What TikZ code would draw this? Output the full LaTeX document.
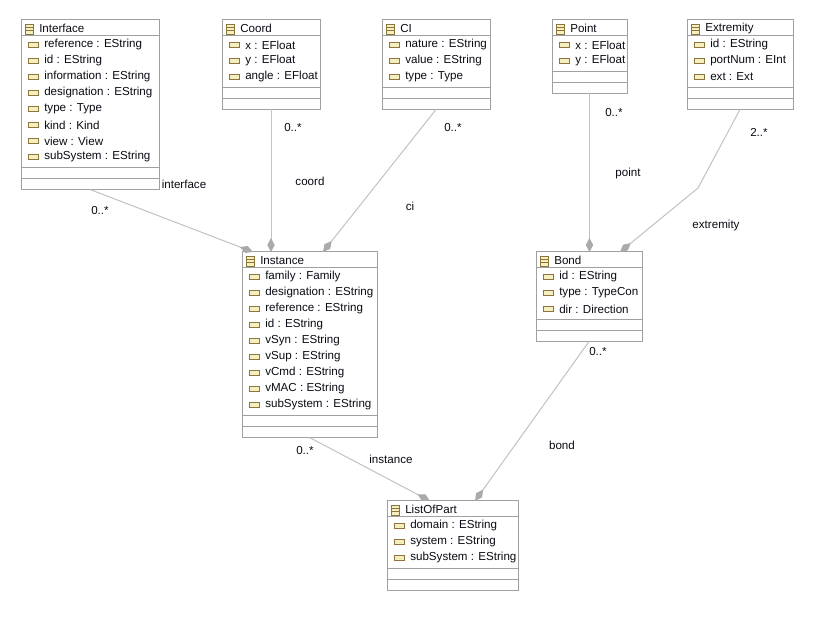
\documentclass[tikz,border=0pt]{standalone}
\usepackage{fontspec}
\setmainfont{Liberation Sans}
\usetikzlibrary{arrows.meta,calc,fit}
\definecolor{boxgray}{RGB}{160,160,160}
\definecolor{linegray}{RGB}{194,194,194}
\definecolor{tipgray}{RGB}{170,170,170}
\definecolor{iconline}{RGB}{138,118,58}
\definecolor{iconfill}{RGB}{246,238,190}
\definecolor{umlink}{RGB}{10,10,20}
\tikzstyle{classbox}=[draw=boxgray,line width=0.75pt,inner sep=0pt,outer sep=0pt]
\tikzstyle{sepline}=[draw=boxgray,line width=0.75pt]
\tikzstyle{classicon}=[draw=iconline,fill=iconfill,line width=0.6pt]
\tikzstyle{attricon}=[draw=iconline,fill=iconfill,line width=0.6pt]
\tikzstyle{umltext}=[inner sep=0pt,anchor=west,text=umlink,font=\fontsize{8.7}{10}\selectfont]
\tikzstyle{rolelabel}=[inner sep=0pt,text=umlink,font=\fontsize{8.7}{10}\selectfont]
\tikzstyle{assoc}=[draw=linegray,line width=0.75pt,-{Diamond[length=10.5pt,width=5.5pt,color=tipgray]}]
% class box: name, left, top, width, title, number of attributes, attributes
\newcommand{\umlclass}[7]{%
  \pgfmathsetmacro{\ysep}{#3+16+16*#6+3.5}
  \node[classbox,fit={(#2,#3) (#2+#4,\ysep+22)}] (#1) {};
  \draw[sepline] (#2,#3+16) -- ++(#4,0);
  \draw[sepline] (#2,\ysep) -- ++(#4,0);
  \draw[sepline] (#2,\ysep+11) -- ++(#4,0);
  \draw[classicon] (#2+4,#3+4) rectangle ++(8,10);
  \draw[iconline,line width=0.5pt] (#2+4,#3+7.33) -- ++(8,0) (#2+4,#3+10.67) -- ++(8,0);
  \node[umltext] (#1-title) at (#2+18,#3+8.5) {#5};
  \foreach \a [count=\i] in {#7} {
    \draw[attricon] (#2+7,#3+16+16*\i-9.5) rectangle ++(10,5);
    \node[umltext] (#1-\i) at (#2+23,#3+16+16*\i-7) {\a};
  }
}

\begin{document}
\begin{tikzpicture}[x=0.75pt,y=-0.75pt]
    \fill[white] (0,0) rectangle (819,624);
    \useasboundingbox (0,0) rectangle (819,624);

    % First we draw the classes
    \umlclass{Interface}{21}{20}{138}{Interface}{8}{reference : EString, id : EString, information : EString, designation : EString, type : Type, kind : Kind, view : View, subSystem : EString}
    \umlclass{Coord}{222}{20}{98}{Coord}{3}{x : EFloat, y : EFloat, angle : EFloat}
    \umlclass{CI}{382}{20}{108}{CI}{3}{nature : EString, value : EString, type : Type}
    \umlclass{Point}{552}{20}{75}{Point}{2}{x : EFloat, y : EFloat}
    \umlclass{Extremity}{687}{20}{106}{Extremity}{3}{id : EString, portNum : EInt, ext : Ext}
    \umlclass{Instance}{242}{252}{135}{Instance}{9}{family : Family, designation : EString, reference : EString, id : EString, vSyn : EString, vSup : EString, vCmd : EString, vMAC : EString, subSystem : EString}
    \umlclass{Bond}{536}{252}{106}{Bond}{3}{id : EString, type : TypeCon, dir : Direction}
    \umlclass{ListOfPart}{387}{501}{131}{ListOfPart}{3}{domain : EString, system : EString, subSystem : EString}

    % Connect classes with containments
    \coordinate (extBend) at (698,188);
    \path[assoc] ($(Interface.south west)+(69,0)$) -- ($(Instance.north west)+(11,0)$);
    \path[assoc] (Coord.south) -- (Instance.north -| Coord.south);
    \path[assoc] (CI.south) -- ($(Instance.north west)+(81,0)$);
    \path[assoc] (Point.south) -- (Bond.north -| Point.south);
    \path[assoc] (Extremity.south) -- (extBend) -- ($(Bond.north west)+(84,0)$);
    \path[assoc] (Instance.south) -- ($(ListOfPart.north west)+(43,0)$);
    \path[assoc] (Bond.south) -- ($(ListOfPart.north west)+(88,0)$);

    % Role names and multiplicities
    \foreach \pos/\name/\txt in {{(184,184)/interfaceRole/interface}, {(100,211)/interfaceMult/0..*},
        {(310,181)/coordRole/coord}, {(293,128)/coordMult/0..*},
        {(410,206)/ciRole/ci}, {(453,128)/ciMult/0..*},
        {(628,174)/pointRole/point}, {(614,113)/pointMult/0..*},
        {(716,226)/extremityRole/extremity}, {(759,132)/extremityMult/2..*},
        {(562,445)/bondRole/bond}, {(598,352)/bondMult/0..*},
        {(391,459)/instanceRole/instance}, {(305,451)/instanceMult/0..*}}
        \node[rolelabel] (\name) at \pos {\txt};
\end{tikzpicture}
\end{document}
